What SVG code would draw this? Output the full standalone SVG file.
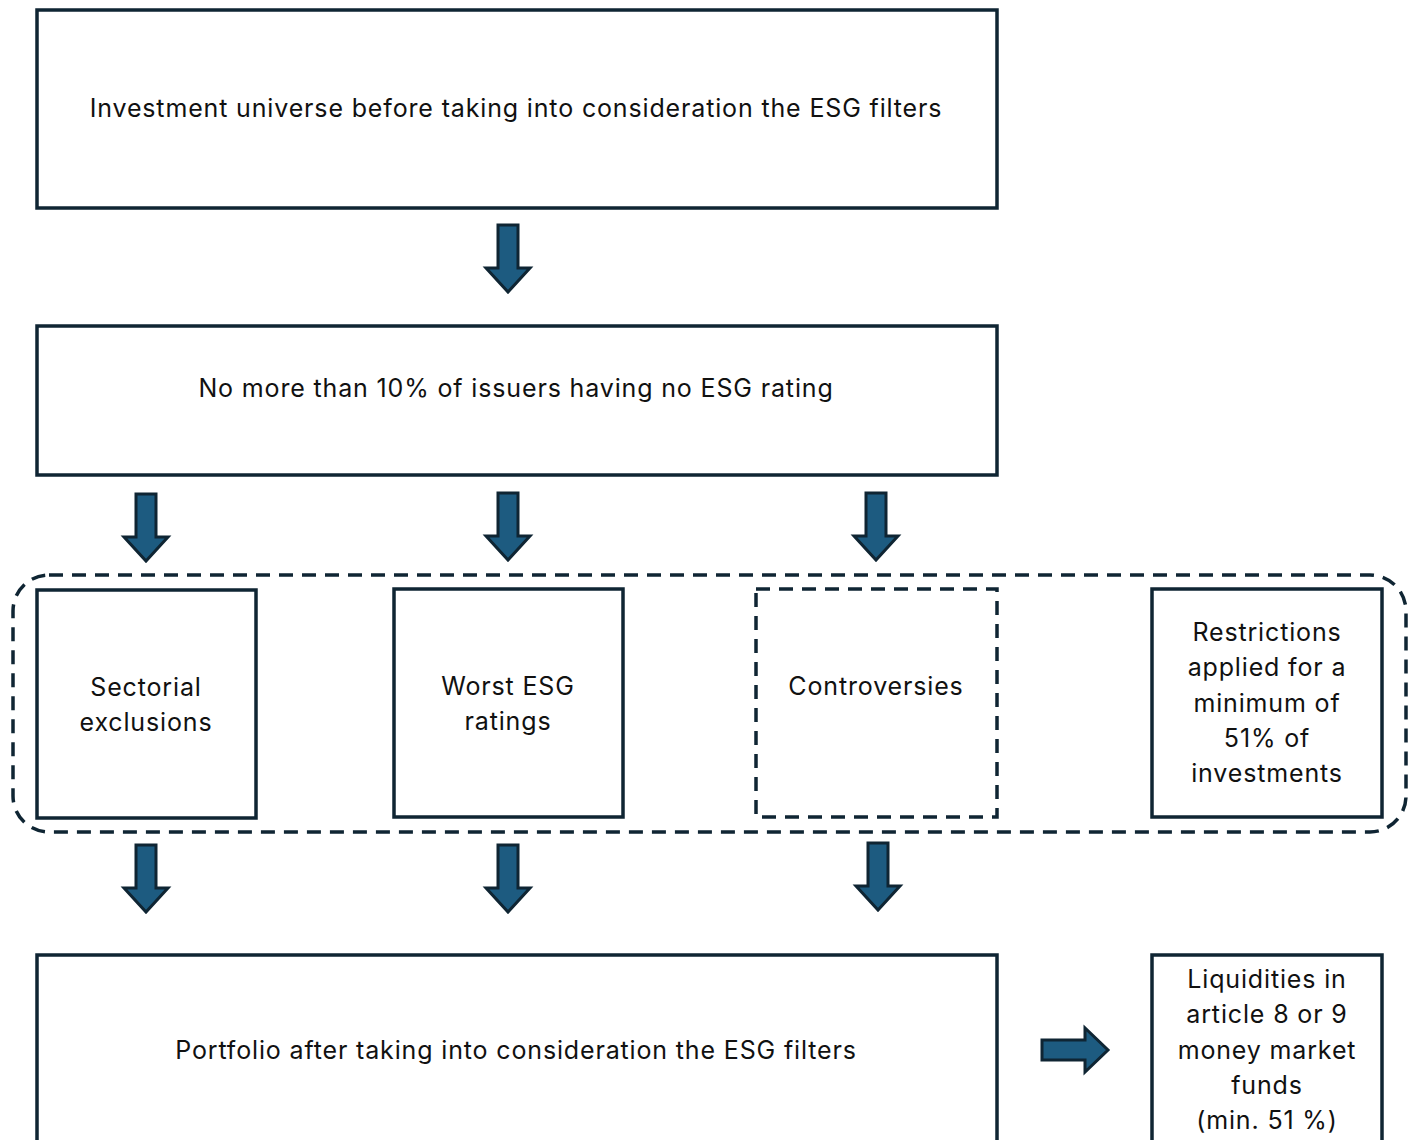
<svg xmlns="http://www.w3.org/2000/svg" width="1416" height="1140" viewBox="0 0 1416 1140">
<defs>
<style>
.box{fill:#fff;stroke:#0f2533;stroke-width:3.5}
.dbox{fill:#fff;stroke:#0f2533;stroke-width:3.5;stroke-dasharray:14 9}
.grp{fill:none;stroke:#0f2533;stroke-width:3.5;stroke-dasharray:14 9}
.t{font-family:Inter,"Liberation Sans",sans-serif;font-size:25px;letter-spacing:0.85px;fill:#111;text-anchor:middle}
.arr{fill:#1d5b80;stroke:#0f2533;stroke-width:3;stroke-linejoin:miter}
</style>
<path id="da" d="M-10,0 H10 V43 H22 L0,67 L-22,43 H-10 Z"/>
</defs>
<rect width="1416" height="1140" fill="#fff"/>
<g id="group-filters"><rect class="grp" x="13" y="575" width="1393" height="257" rx="36"/></g>
<g id="universe"><rect class="box" x="37" y="10" width="960" height="198"/><text class="t" x="516" y="117">Investment universe before taking into consideration the ESG filters</text></g>
<g id="no-rating"><rect class="box" x="37" y="326" width="960" height="149"/><text class="t" x="516" y="397">No more than 10% of issuers having no ESG rating</text></g>
<g id="sectorial"><rect class="box" x="37" y="590" width="219" height="228"/><text class="t" x="146" y="696">Sectorial</text><text class="t" x="146" y="731">exclusions</text></g>
<g id="worst"><rect class="box" x="394" y="589" width="229" height="228"/><text class="t" x="508" y="695">Worst ESG</text><text class="t" x="508" y="730">ratings</text></g>
<g id="controversies"><rect class="dbox" x="756" y="589" width="241" height="228"/><text class="t" x="876" y="695">Controversies</text></g>
<g id="restrictions"><rect class="box" x="1152" y="589" width="230" height="228"/><text class="t" x="1267" y="641">Restrictions</text><text class="t" x="1267" y="676">applied for a</text><text class="t" x="1267" y="712">minimum of</text><text class="t" x="1267" y="747">51% of</text><text class="t" x="1267" y="782">investments</text></g>
<g id="portfolio"><rect class="box" x="37" y="955" width="960" height="200"/><text class="t" x="516" y="1059">Portfolio after taking into consideration the ESG filters</text></g>
<g id="liquidities"><rect class="box" x="1152" y="955" width="230" height="200"/><text class="t" x="1267" y="988">Liquidities in</text><text class="t" x="1267" y="1023">article 8 or 9</text><text class="t" x="1267" y="1059">money market</text><text class="t" x="1267" y="1094">funds</text><text class="t" x="1267" y="1129">(min. 51 %)</text></g>
<g id="connectors">
<use href="#da" class="arr" x="508" y="225"/>
<use href="#da" class="arr" x="146" y="494"/>
<use href="#da" class="arr" x="508" y="493"/>
<use href="#da" class="arr" x="876" y="493"/>
<use href="#da" class="arr" x="146" y="845"/>
<use href="#da" class="arr" x="508" y="845"/>
<use href="#da" class="arr" x="878" y="843"/>
<path class="arr" d="M1042,1040 H1085 V1028 L1108,1050 L1085,1072 V1060 H1042 Z"/>
</g>
</svg>
